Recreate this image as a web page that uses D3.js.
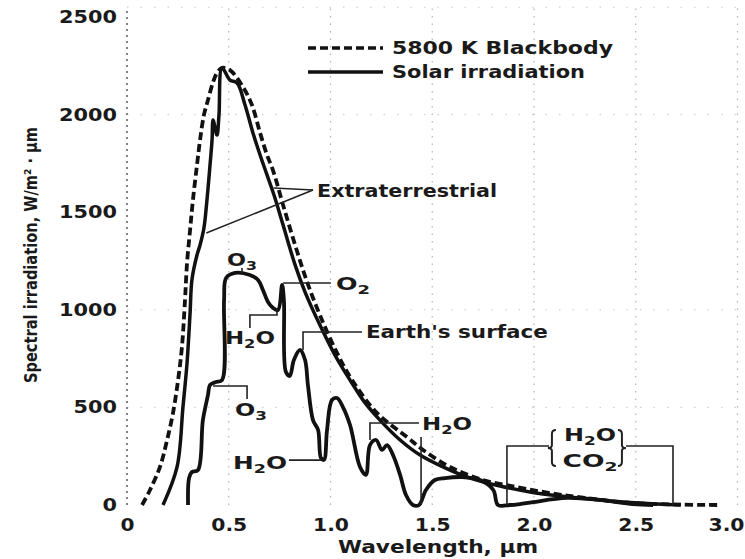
<!DOCTYPE html>
<html>
<head>
<meta charset="utf-8">
<script src="https://cdn.jsdelivr.net/npm/d3@7"></script>
<style>
body { margin: 0; background: #fff; }
text { font-family: "DejaVu Sans", sans-serif; font-weight: bold; fill: #1a1a1a; }
</style>
</head>
<body>
<svg id="chart" width="745" height="559"></svg>
<script>
var wavelengthTicks = [0, 0.5, 1.0, 1.5, 2.0, 2.5, 3.0];
var irradianceTicks = [0, 500, 1000, 1500, 2000, 2500];

// [wavelength um, W/m2.um]
var blackbody = [[0.074,0],[0.113,77],[0.162,195],[0.197,333],[0.226,471],[0.251,640],[0.27,809],[0.285,1050],
    [0.295,1240],[0.31,1409],[0.324,1563],[0.344,1742],[0.359,1870],[0.378,1998],[0.398,2075],[0.423,2167],
    [0.442,2213],[0.467,2239],[0.506,2228],[0.57,2141],[0.614,2049],[0.654,1906],[0.688,1793],[0.717,1716],
    [0.767,1537],[0.826,1332],[0.885,1142],[0.948,973],[1.032,779],[1.106,640],[1.229,471],[1.376,348],
    [1.455,282],[1.587,195],[1.749,128],[1.916,92],[2.079,61],[2.25,36],[2.486,10],[2.72,2],[2.9,0]];

var extraterrestrial = [[0.177,0],[0.246,195],[0.275,502],[0.295,727],[0.31,984],[0.319,1153],[0.344,1281],
    [0.359,1332],[0.378,1419],[0.393,1563],[0.408,1742],[0.418,1870],[0.423,1972],[0.442,1895],[0.452,1998],
    [0.467,2239],[0.506,2177],[0.541,2162],[0.58,2049],[0.619,1906],[0.654,1793],[0.688,1691],[0.727,1573],
    [0.767,1434],[0.826,1230],[0.875,1091],[0.948,922],[1.022,768],[1.096,640],[1.17,523],[1.243,435],
    [1.342,333],[1.44,256],[1.563,190],[1.686,138],[1.833,97],[1.98,67],[2.13,46],[2.32,26],[2.52,10],[2.72,0]];

var earthSurface = [[0.30,0],[0.305,138],[0.319,169],[0.349,179],[0.373,435],[0.398,564],[0.408,615],[0.437,630],
    [0.467,640],[0.477,1050],[0.487,1163],[0.531,1189],[0.604,1178],[0.644,1153],[0.668,1101],[0.693,1040],
    [0.713,1014],[0.742,999],[0.762,1127],[0.771,1050],[0.781,681],[0.80,661],[0.82,743],[0.85,794],
    [0.875,743],[0.889,615],[0.914,435],[0.939,384],[0.953,241],[0.968,231],[0.983,384],[1.007,538],
    [1.032,548],[1.061,502],[1.096,410],[1.145,195],[1.174,154],[1.194,307],[1.224,333],[1.253,282],
    [1.278,307],[1.307,256],[1.342,154],[1.371,51],[1.405,0],[1.435,0],[1.469,77],[1.513,128],[1.563,138],
    [1.646,143],[1.735,128],[1.80,77],[1.823,0],[1.882,0],[1.931,5],[1.995,15],[2.162,36],[2.324,26],
    [2.486,5],[2.585,0]];

// labels: text, [wavelength, irradiance] of text centre line, anchor, width
var labels = [
    ["Extraterrestrial", [0.934,1609], "start", 180],
    ["Earth's surface", [1.174,886], "start", 182],
    ["O_3", [0.565,1255], "middle", 30],
    ["O_2", [1.027,1132], "start", 34],
    ["H_2O", [0.604,856], "middle", 50],
    ["O_3", [0.609,487], "middle", 32],
    ["H_2O", [0.654,215], "middle", 54],
    ["H_2O", [1.45,415], "start", 50],
    ["H_2O", [2.275,359], "middle", 52],
    ["CO_2", [2.275,225], "middle", 55]
];

var leaders = [
    [[0.914,1614],[0.72,1624]],
    [[0.914,1614],[0.39,1393]],
    [[0.565,1214],[0.565,1186]],
    [[0.767,1137],[1.002,1137]],
    [[0.604,907],[0.604,973],[0.737,973],[0.737,1004]],
    [[0.865,794],[0.865,886],[1.155,886]],
    [[0.423,610],[0.59,610],[0.59,543]],
    [[0.796,230],[0.958,230]],
    [[1.194,333],[1.194,420],[1.435,420]],
    [[1.445,348],[1.445,0]],
    [[1.867,0],[1.867,302],[2.074,302]],
    [[2.452,302],[2.683,302],[2.683,0]]
];

var braces = [[2.088, 384, 200, -1], [2.432, 384, 200, 1]];

var svg = d3.select("#chart");
var x = d3.scaleLinear().domain([0, 3]).range([127, 737.5]);
var y = d3.scaleLinear().domain([0, 2500]).range([505, 17]);

// dotted grid, like the scan
svg.selectAll(".vgrid").data(wavelengthTicks).enter()
    .append("line")
    .attr("x1", function(d) { return x(d); }).attr("x2", function(d) { return x(d); })
    .attr("y1", y(0)).attr("y2", 8)
    .attr("stroke", function(d) { return d === 0 ? "#333" : "#777"; })
    .attr("stroke-width", function(d) { return d === 0 ? 1.5 : 1.2; })
    .attr("stroke-dasharray", function(d) { return d === 0 ? "2,4" : "1.5,6"; })
    .attr("opacity", function(d) { return d === 0 ? 0.8 : 0.55; });
svg.selectAll(".hgrid").data([500, 1000, 2000, 2550]).enter()
    .append("line")
    .attr("x1", x(0)).attr("x2", x(3))
    .attr("y1", function(d) { return y(d); }).attr("y2", function(d) { return y(d); })
    .attr("stroke", "#888").attr("stroke-dasharray", "1.5,12").attr("opacity", 0.45);

// axes
var yAxis = svg.append("g").attr("transform", "translate(" + x(0) + ",0)")
    .call(d3.axisLeft(y).tickValues(irradianceTicks).tickSize(0).tickPadding(10)
        .tickFormat(d3.format("d")));
var xAxis = svg.append("g").attr("transform", "translate(0," + y(0) + ")")
    .call(d3.axisBottom(x).tickValues(wavelengthTicks).tickSize(0).tickPadding(14)
        .tickFormat(function(d) { return d === 0 ? "0" : d3.format(".1f")(d); }));
[yAxis, xAxis].forEach(function(g) {
    g.select(".domain").remove();
    g.attr("font-family", null).attr("font-size", null);
    g.selectAll("text")
        .attr("font-size", 17)
        .attr("fill", "#1a1a1a")
        .attr("lengthAdjust", "spacingAndGlyphs")
        .attr("textLength", function() { return this.textContent.length * 14.5; });
});
xAxis.selectAll("text")
    .attr("textLength", function() { return this.textContent.length === 1 ? 14 : 36; })
    .filter(function(d) { return d === 3; })
    .attr("text-anchor", "end").attr("x", 744 - x(3));

svg.append("text")
    .attr("x", 438).attr("y", 553)
    .attr("text-anchor", "middle").attr("font-size", 17)
    .attr("textLength", 200).attr("lengthAdjust", "spacingAndGlyphs")
    .text("Wavelength, \u00b5m");
svg.append("text")
    .attr("transform", "translate(37,255) rotate(-90)")
    .attr("text-anchor", "middle").attr("font-size", 17)
    .attr("textLength", 256).attr("lengthAdjust", "spacingAndGlyphs")
    .text("Spectral irradiation, W/m\u00b2 \u00b7 \u00b5m");

// curves
var line = d3.line()
    .x(function(d) { return x(d[0]); })
    .y(function(d) { return y(d[1]); })
    .curve(d3.curveCatmullRom.alpha(0.5));

svg.append("path").datum(blackbody)
    .attr("d", line).attr("fill", "none")
    .attr("stroke", "#111").attr("stroke-width", 3.8)
    .attr("stroke-dasharray", "8,4");
svg.append("path").datum(extraterrestrial)
    .attr("d", line).attr("fill", "none")
    .attr("stroke", "#111").attr("stroke-width", 3.5)
    .attr("stroke-linejoin", "round");
svg.append("path").datum(earthSurface)
    .attr("d", line).attr("fill", "none")
    .attr("stroke", "#111").attr("stroke-width", 3.8)
    .attr("stroke-linejoin", "round");

// leader lines and brackets
var plain = d3.line().x(function(d) { return x(d[0]); }).y(function(d) { return y(d[1]); });
svg.selectAll(".leader").data(leaders).enter()
    .append("path")
    .attr("d", plain).attr("fill", "none")
    .attr("stroke", "#222").attr("stroke-width", 1.6);

svg.selectAll(".brace").data(braces).enter()
    .append("path")
    .attr("d", function(b) {
        var x0 = x(b[0]), yt = y(b[1]), yb = y(b[2]), ym = (yt + yb) / 2, s = b[3];
        return "M" + (x0 - 4 * s) + "," + yt + " Q" + x0 + "," + yt + " " + x0 + "," + (yt + 4) +
            " L" + x0 + "," + (ym - 3) + " Q" + x0 + "," + ym + " " + (x0 + 4 * s) + "," + ym +
            " Q" + x0 + "," + ym + " " + x0 + "," + (ym + 3) +
            " L" + x0 + "," + (yb - 4) + " Q" + x0 + "," + yb + " " + (x0 - 4 * s) + "," + yb;
    })
    .attr("fill", "none").attr("stroke", "#222").attr("stroke-width", 2);

labels.forEach(function(l) {
    var t = svg.append("text")
        .attr("x", x(l[1][0])).attr("y", y(l[1][1]) + 6)
        .attr("text-anchor", l[2]).attr("font-size", 17)
        .attr("textLength", l[3]).attr("lengthAdjust", "spacingAndGlyphs");
    var shift = 0;
    l[0].split(/(_\d)/).forEach(function(p) {
        if (!p) return;
        if (p[0] === "_") {
            t.append("tspan").attr("font-size", 12).attr("dy", 4 - shift).text(p.slice(1));
            shift = 4;
        } else {
            t.append("tspan").attr("dy", -shift).text(p);
            shift = 0;
        }
    });
});

// legend
var legend = [["5800 K Blackbody", "8,4", 48, 221], ["Solar irradiation", null, 72, 193]];
legend.forEach(function(e) {
    svg.append("line")
        .attr("x1", 308).attr("x2", 383).attr("y1", e[2]).attr("y2", e[2])
        .attr("stroke", "#111").attr("stroke-width", 3.5)
        .attr("stroke-dasharray", e[1]);
    svg.append("text")
        .attr("x", 392).attr("y", e[2] + 6).attr("font-size", 17)
        .attr("textLength", e[3]).attr("lengthAdjust", "spacingAndGlyphs")
        .text(e[0]);
});
</script>
</body>
</html>
